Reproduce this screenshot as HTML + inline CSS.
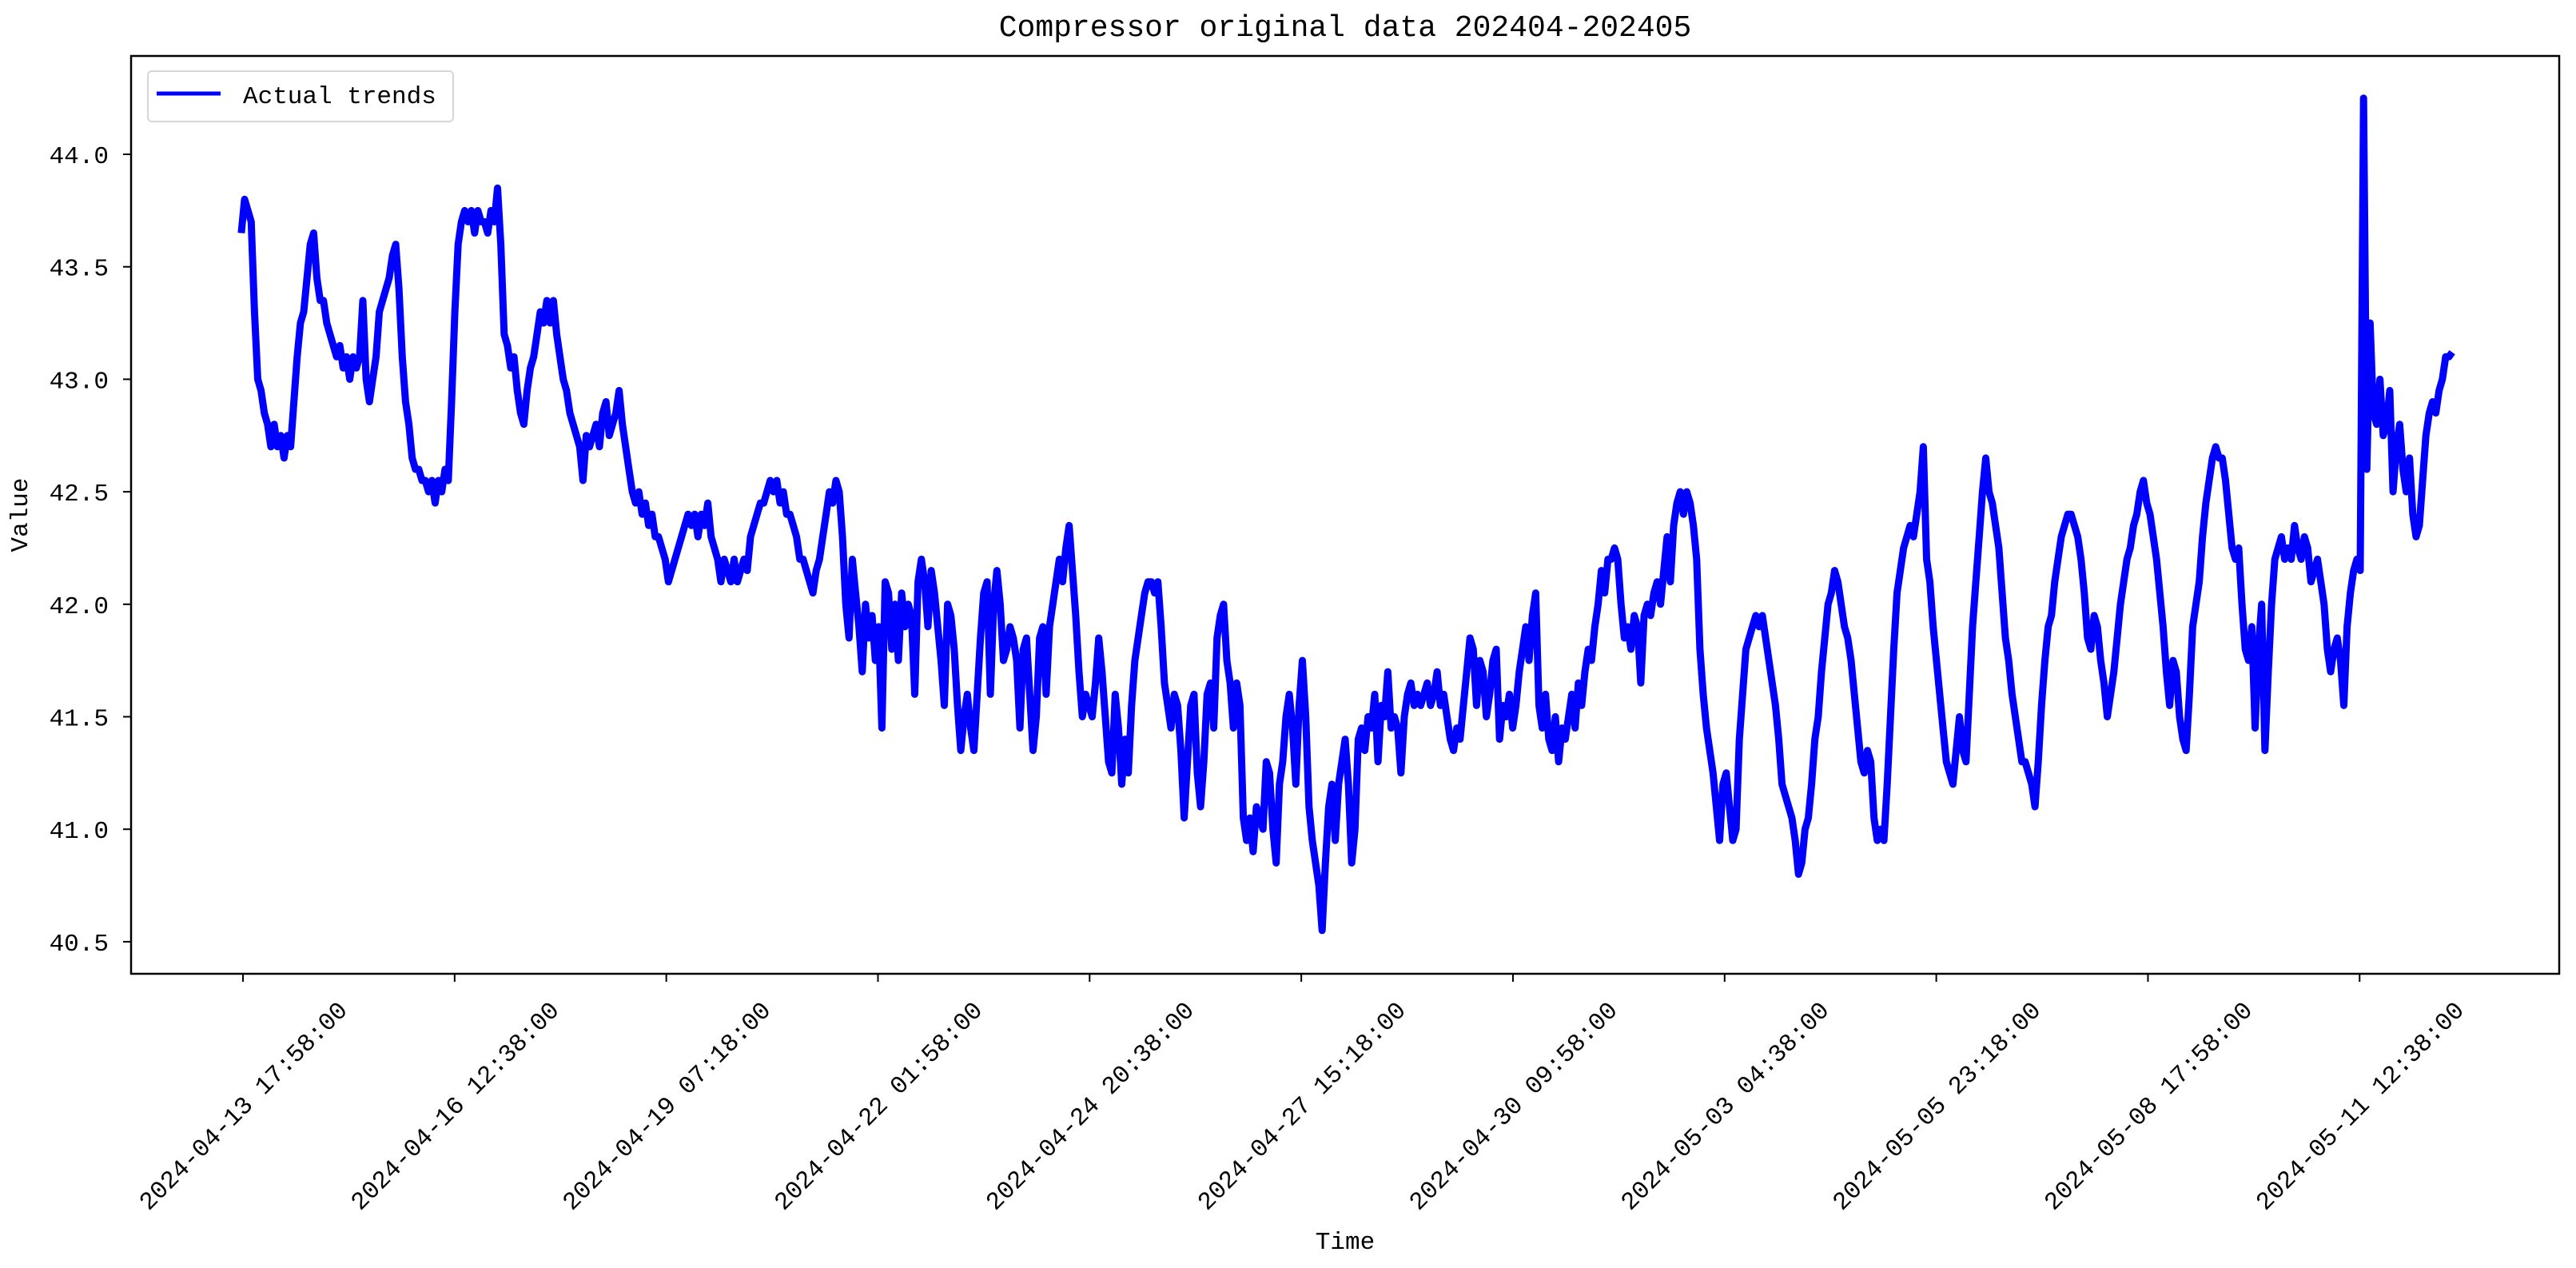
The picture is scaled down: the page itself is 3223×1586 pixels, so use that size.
<!DOCTYPE html>
<html><head><meta charset="utf-8"><title>Compressor original data</title>
<style>html,body{margin:0;padding:0;background:#fff}svg{display:block}text{font-family:"Liberation Mono","WenQuanYi Zen Hei",monospace;fill:#000}</style>
</head><body>
<svg id="chart" width="3223" height="1586" viewBox="0 0 3223 1586" xmlns="http://www.w3.org/2000/svg">
<rect x="0" y="0" width="3223" height="1586" fill="#fff"/>
<text x="1683" y="45" font-size="38" text-anchor="middle">Compressor original data 202404-202405</text>
<g id="plot"></g>
<g id="yaxis"></g>
<g id="xaxis"></g>
<rect x="164" y="70" width="3038" height="1148" fill="none" stroke="#000" stroke-width="2.5"/>
<text x="1683" y="1562" font-size="31" text-anchor="middle">Time</text>
<text x="0" y="0" font-size="31" text-anchor="middle" transform="translate(34,644) rotate(-90)">Value</text>
<g>
<rect x="185" y="89" width="382" height="63" rx="5" fill="#fff" stroke="#d6d6d6" stroke-width="2"/>
<line x1="196" y1="117" x2="276" y2="117" stroke="#0000ff" stroke-width="5"/>
<text x="304" y="129" font-size="31">Actual trends</text>
</g>
</svg>
<script>
const yTicks = [40.5, 41.0, 41.5, 42.0, 42.5, 43.0, 43.5, 44.0];
const xTickLabels = ["2024-04-13 17:58:00","2024-04-16 12:38:00","2024-04-19 07:18:00","2024-04-22 01:58:00","2024-04-24 20:38:00","2024-04-27 15:18:00","2024-04-30 09:58:00","2024-05-03 04:38:00","2024-05-05 23:18:00","2024-05-08 17:58:00","2024-05-11 12:38:00"];
const xTickHours = [0, 66.667, 133.333, 200, 266.667, 333.333, 400, 466.667, 533.333, 600, 666.667];
const startHour = -0.52;
const stepHours = 1.0347;
const values = [
43.65,43.8,43.75,43.7,43.3,43.0,42.95,42.85,42.8,42.7,
42.8,42.7,42.75,42.65,42.75,42.7,42.9,43.1,43.25,43.3,43.45,43.6,43.65,43.45,43.35,43.35,43.25,43.2,43.15,43.1,
43.15,43.05,43.1,43.0,43.1,43.05,43.1,43.35,43.0,42.9,43.0,43.1,43.3,43.35,43.4,43.45,43.55,43.6,43.4,43.1,
42.9,42.8,42.65,42.6,42.6,42.55,42.55,42.5,42.55,42.45,42.55,42.5,42.6,42.55,42.9,43.3,43.6,43.7,43.75,43.7,
43.75,43.65,43.75,43.7,43.7,43.65,43.75,43.7,43.85,43.6,43.2,43.15,43.05,43.1,42.95,42.85,42.8,42.95,43.05,43.1,
43.2,43.3,43.25,43.35,43.25,43.35,43.2,43.1,43.0,42.95,42.85,42.8,42.75,42.7,42.55,42.75,42.7,42.75,42.8,42.7,
42.85,42.9,42.75,42.8,42.85,42.95,42.8,42.7,42.6,42.5,42.45,42.5,42.4,42.45,42.35,42.4,42.3,42.3,42.25,42.2,
42.1,42.15,42.2,42.25,42.3,42.35,42.4,42.35,42.4,42.3,42.4,42.35,42.45,42.3,42.25,42.2,42.1,42.2,42.15,42.1,
42.2,42.1,42.15,42.2,42.15,42.3,42.35,42.4,42.45,42.45,42.5,42.55,42.5,42.55,42.45,42.5,42.4,42.4,42.35,42.3,
42.2,42.2,42.15,42.1,42.05,42.15,42.2,42.3,42.4,42.5,42.45,42.55,42.5,42.3,42.0,41.85,42.2,42.05,41.9,41.7,
42.0,41.85,41.95,41.75,41.9,41.45,42.1,42.05,41.8,42.0,41.75,42.05,41.9,42.0,41.95,41.6,42.1,42.2,42.1,41.9,
42.15,42.05,41.9,41.75,41.55,42.0,41.95,41.8,41.55,41.35,41.5,41.6,41.45,41.35,41.6,41.85,42.05,42.1,41.6,42.0,
42.15,42.0,41.75,41.8,41.9,41.85,41.75,41.45,41.8,41.85,41.6,41.35,41.5,41.85,41.9,41.6,41.9,42.0,42.1,42.2,
42.1,42.25,42.35,42.15,41.95,41.7,41.5,41.6,41.55,41.5,41.65,41.85,41.7,41.5,41.3,41.25,41.6,41.45,41.2,41.4,
41.25,41.55,41.75,41.85,41.95,42.05,42.1,42.1,42.05,42.1,41.9,41.65,41.55,41.45,41.6,41.55,41.35,41.05,41.3,41.55,
41.6,41.25,41.1,41.3,41.6,41.65,41.45,41.85,41.95,42.0,41.75,41.65,41.45,41.65,41.55,41.05,40.95,41.05,40.9,41.1,
41.05,41.0,41.3,41.25,41.0,40.85,41.2,41.3,41.5,41.6,41.45,41.2,41.55,41.75,41.5,41.1,40.95,40.85,40.75,40.55,
40.85,41.1,41.2,40.95,41.2,41.3,41.4,41.2,40.85,41.0,41.4,41.45,41.35,41.5,41.45,41.6,41.3,41.55,41.5,41.7,
41.45,41.5,41.45,41.25,41.5,41.6,41.65,41.55,41.6,41.55,41.6,41.65,41.55,41.6,41.7,41.55,41.6,41.5,41.4,41.35,
41.45,41.4,41.55,41.7,41.85,41.8,41.55,41.75,41.7,41.5,41.6,41.75,41.8,41.4,41.55,41.5,41.6,41.45,41.55,41.7,
41.8,41.9,41.75,41.95,42.05,41.55,41.45,41.6,41.4,41.35,41.5,41.3,41.45,41.4,41.5,41.6,41.45,41.65,41.55,41.7,
41.8,41.75,41.9,42.0,42.15,42.05,42.2,42.2,42.25,42.2,42.0,41.85,41.9,41.8,41.95,41.9,41.65,41.95,42.0,41.95,
42.05,42.1,42.0,42.15,42.3,42.1,42.35,42.45,42.5,42.4,42.5,42.45,
42.35,42.2,41.8,41.6,41.45,41.35,41.25,41.1,40.95,41.2,41.25,41.1,40.95,41.0,41.4,41.6,41.8,41.85,41.9,41.95,
41.9,41.95,41.85,41.75,41.65,41.55,41.4,41.2,41.15,41.1,41.05,40.95,40.8,40.85,41.0,41.05,41.2,41.4,41.5,41.7,
41.85,42.0,42.05,42.15,42.1,42.0,41.9,41.85,41.75,41.6,41.45,41.3,41.25,41.35,41.3,41.05,40.95,41.0,40.95,41.2,
41.5,41.8,42.05,42.15,42.25,42.3,42.35,42.3,42.4,42.5,42.7,42.2,42.1,41.9,41.75,41.6,41.45,41.3,41.25,41.2,
41.35,41.5,41.35,41.3,41.6,41.9,42.1,42.3,42.5,42.65,42.5,42.45,42.35,42.25,42.05,41.85,41.75,41.6,41.5,41.4,
41.3,41.3,41.25,41.2,41.1,41.3,41.55,41.75,41.9,41.95,42.1,42.2,42.3,42.35,42.4,42.4,42.35,42.3,42.2,42.05,
41.85,41.8,41.95,41.9,41.75,41.65,41.5,41.6,41.7,41.85,42.0,42.1,42.2,42.25,42.35,42.4,42.5,42.55,42.45,42.4,
42.3,42.2,42.05,41.9,41.7,41.55,41.75,41.7,41.5,41.4,41.35,41.6,41.9,42.0,42.1,42.3,42.45,42.55,42.65,42.7,
42.65,42.65,42.55,42.4,42.25,42.2,42.25,42.0,41.8,41.75,41.9,41.45,41.8,42.0,41.35,41.7,42.0,42.2,42.25,42.3,
42.2,42.25,42.2,42.35,42.25,42.2,42.3,42.25,42.1,42.15,42.2,42.1,42.0,41.8,41.7,41.8,41.85,41.75,41.55,41.9,
42.05,42.15,42.2,42.15,44.25,42.6,43.25,42.85,42.8,43.0,42.75,42.8,42.95,42.5,42.7,42.8,42.6,42.5,42.65,42.4,
42.3,42.35,42.55,42.75,42.85,42.9,42.85,42.95,43.0,43.1,43.1,43.12
];
const NS = "http://www.w3.org/2000/svg";
const X0 = 304, PXH = 3.9724, Y44 = 193, PXV = 281.4;
function xScale(h){ return X0 + h * PXH; }
function yScale(v){ return Y44 + (44 - v) * PXV; }
const plot = document.getElementById('plot');
const yaxis = document.getElementById('yaxis');
const xaxis = document.getElementById('xaxis');
yTicks.forEach(function(v){
  const y = yScale(v);
  const t = document.createElementNS(NS,'line');
  t.setAttribute('x1',154); t.setAttribute('x2',164); t.setAttribute('y1',y); t.setAttribute('y2',y);
  t.setAttribute('stroke','#000'); t.setAttribute('stroke-width','2');
  
  
  yaxis.appendChild(t);
  const l = document.createElementNS(NS,'text');
  l.setAttribute('x',136); l.setAttribute('y',y+11); l.setAttribute('font-size','31'); l.setAttribute('text-anchor','end');
  l.textContent = v.toFixed(1);
  
  
  yaxis.appendChild(l);
});
xTickHours.forEach(function(h,i){
  const x = xScale(h);
  const t = document.createElementNS(NS,'line');
  t.setAttribute('x1',x); t.setAttribute('x2',x); t.setAttribute('y1',1218); t.setAttribute('y2',1228);
  t.setAttribute('stroke','#000'); t.setAttribute('stroke-width','2');
  
  
  xaxis.appendChild(t);
  const l = document.createElementNS(NS,'text');
  l.setAttribute('x',0); l.setAttribute('y',10); l.setAttribute('font-size','31'); l.setAttribute('text-anchor','middle');
  l.setAttribute('transform','translate('+x+',1383) rotate(-45)');
  l.textContent = xTickLabels[i];
  
  
  xaxis.appendChild(l);
});
let d = '';
values.forEach(function(v,i){
  const h = startHour + i * stepHours;
  d += (i ? 'L' : 'M') + xScale(h).toFixed(1) + ',' + yScale(v).toFixed(1);
});
const path = document.createElementNS(NS,'path');
path.setAttribute('d', d);
path.setAttribute('fill','none'); path.setAttribute('stroke','#0000ff'); path.setAttribute('stroke-width','9');
path.setAttribute('stroke-linejoin','round');


plot.appendChild(path);
</script>
</body></html>
